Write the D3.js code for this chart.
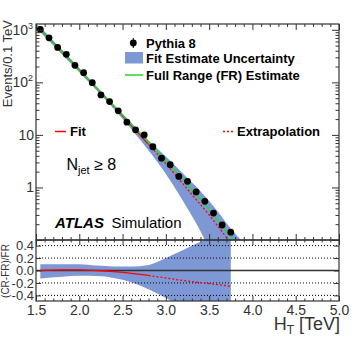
<!DOCTYPE html>
<html>
<head>
<meta charset="utf-8">
<script src="https://cdn.jsdelivr.net/npm/d3@7"></script>
<style>
body { margin: 0; background: #fff; }
svg { display: block; font-family: "Liberation Sans", Arial, Helvetica, sans-serif; }
</style>
</head>
<body>
<div id="chart"></div>
<script>
// Pythia 8 points (0.1 TeV bins)
var htBins = [1.55, 1.65, 1.75, 1.85, 1.95, 2.05, 2.15, 2.25, 2.35, 2.45, 2.55, 2.65,
              2.75, 2.85, 2.95, 3.05, 3.15, 3.25, 3.35, 3.45, 3.55, 3.65, 3.75];
var pythia = [1018, 705, 463, 341, 211, 153, 98.7, 57.7, 43.0, 28.7, 17.5, 12.5,
              10.0, 5.95, 3.60, 2.71, 1.62, 1.31, 0.822, 0.545, 0.325, 0.193, 0.141];

// full range (FR) estimate
var frHt = [1.5, 2.0, 2.5, 3.0, 3.5, 3.77];
var frEvents = [1256, 170, 23.9, 3.23, 0.379, 0.105];

// control region fit, then extrapolation
var fitHt = [1.5, 2.0, 2.5, 2.8];
var fitEvents = [1256, 172, 23.2, 6.6];
var extHt = [2.8, 3.0, 3.25, 3.5, 3.77];
var extEvents = [6.6, 2.84, 0.92, 0.299, 0.078];

// fit estimate uncertainty
var bandHt = [1.55, 1.8, 2.0, 2.2, 2.4, 2.6, 2.8, 3.0, 3.2, 3.4, 3.6, 3.75, 3.88];
var bandHi = [1131, 416, 187, 83.6, 37.6, 17.0, 7.83, 3.88, 1.82, 0.85, 0.35, 0.165, 0.095];
var bandLo = [894, 340, 156, 70.4, 31.1, 13.0, 5.03, 1.81, 0.548, 0.146, 0.028, 0.006, 0.001];

// ratio panel (CR-FR)/FR
var ratioHt = [1.55, 1.8, 2.0, 2.2, 2.4, 2.6, 2.8, 3.0, 3.2, 3.4, 3.6, 3.75];
var ratioHi = [0.10, 0.10, 0.10, 0.08, 0.065, 0.065, 0.09, 0.20, 0.33, 0.46, 0.60, 0.72];
var ratioLo = [-0.13, -0.10, -0.085, -0.09, -0.12, -0.19, -0.30, -0.44, -0.60, -0.75, -0.88, -0.95];
var ratioFitHt = [1.55, 1.8, 2.0, 2.2, 2.5, 2.8];
var ratioFit = [0.0, 0.01, 0.01, 0.0, -0.03, -0.08];
var ratioExtHt = [2.8, 3.0, 3.25, 3.5, 3.75];
var ratioExt = [-0.08, -0.12, -0.17, -0.21, -0.255];

var xTicks = [1.5, 2.0, 2.5, 3.0, 3.5, 4.0, 4.5, 5.0];
var ratioTicks = [-0.4, -0.2, 0.0, 0.2, 0.4];
var yLabels = [{v: 1000, t: "10", s: "3"}, {v: 100, t: "10", s: "2"}, {v: 10, t: "10", s: ""}, {v: 1, t: "1", s: ""}];

var width = 357, height = 343;
var pLeft = 36, pRight = 339, pTop = 24, pMid = 240, pBottom = 301;
var band = "#7d98d5", green = "#22dd22", red = "#ff0000", ink = "#333";

var x = d3.scaleLinear().domain([1.5, 5.0]).range([pLeft, pRight]);
var y = d3.scaleLog().domain([0.1, 1290]).range([pMid, pTop]);
var yr = d3.scaleLinear().domain([-0.49, 0.49]).range([pBottom, pMid]);

var xMinor = d3.range(15, 51).filter(function(d) { return d % 5 !== 0; }).map(function(d) { return d / 10; });
var yMinor = [];
[0.1, 1, 10, 100, 1000].forEach(function(e) {
    for (var k = 2; k <= 9; k++) if (k * e < 1290) yMinor.push(k * e);
});

var svg = d3.select("#chart").append("svg")
    .attr("width", width).attr("height", height);

svg.append("clipPath").attr("id", "clipMain")
    .append("rect").attr("x", pLeft).attr("y", pTop).attr("width", pRight - pLeft).attr("height", pMid - pTop);
svg.append("clipPath").attr("id", "clipRatio")
    .append("rect").attr("x", pLeft).attr("y", pMid).attr("width", pRight - pLeft).attr("height", pBottom - pMid);

function zip(a, b) { return a.map(function(d, i) { return [d, b[i]]; }); }

function tickAxis(maker, scale, values, size, transform) {
    svg.append("g").attr("transform", transform)
        .call(maker(scale).tickValues(values).tickSize(size).tickFormat(""))
        .call(function(g) { g.select(".domain").remove(); })
        .selectAll("line").attr("stroke", ink);
}

// ---- main panel
var main = svg.append("g").attr("clip-path", "url(#clipMain)");

main.append("path")
    .datum(bandHt.map(function(d, i) { return {x: d, lo: bandLo[i], hi: bandHi[i]}; }))
    .attr("fill", band)
    .attr("d", d3.area()
        .x(function(d) { return x(d.x); })
        .y0(function(d) { return y(d.lo); })
        .y1(function(d) { return y(d.hi); })
        .curve(d3.curveMonotoneX));

var line = d3.line()
    .x(function(d) { return x(d[0]); })
    .y(function(d) { return y(d[1]); })
    .curve(d3.curveMonotoneX);

main.append("path").datum(zip(fitHt, fitEvents))
    .attr("fill", "none").attr("stroke", red).attr("stroke-width", 1.3).attr("d", line);
main.append("path").datum(zip(extHt, extEvents))
    .attr("fill", "none").attr("stroke", red).attr("stroke-width", 1.3)
    .attr("stroke-dasharray", "2,2").attr("d", line);
main.append("path").datum(zip(frHt, frEvents))
    .attr("fill", "none").attr("stroke", green).attr("stroke-width", 1.4).attr("d", line);

main.selectAll("circle.pt").data(zip(htBins, pythia)).enter()
    .append("circle").attr("class", "pt")
    .attr("cx", function(d) { return x(d[0]); })
    .attr("cy", function(d) { return y(d[1]); })
    .attr("r", 3.4).attr("fill", "#000");

// ---- ratio panel
var ratio = svg.append("g").attr("clip-path", "url(#clipRatio)");

ratio.append("path")
    .datum(ratioHt.map(function(d, i) { return {x: d, lo: ratioLo[i], hi: ratioHi[i]}; }))
    .attr("fill", band)
    .attr("d", d3.area()
        .x(function(d) { return x(d.x); })
        .y0(function(d) { return yr(d.lo); })
        .y1(function(d) { return yr(d.hi); })
        .curve(d3.curveMonotoneX));

ratio.selectAll("line.grid").data([-0.4, -0.2, 0.2, 0.4]).enter()
    .append("line").attr("class", "grid")
    .attr("x1", pLeft).attr("x2", pRight)
    .attr("y1", function(d) { return yr(d); }).attr("y2", function(d) { return yr(d); })
    .attr("stroke", "#000").attr("stroke-width", 1).attr("stroke-dasharray", "1,2");
ratio.append("line")
    .attr("x1", pLeft).attr("x2", pRight).attr("y1", yr(0)).attr("y2", yr(0))
    .attr("stroke", ink).attr("stroke-width", 1.6);

var rline = d3.line()
    .x(function(d) { return x(d[0]); })
    .y(function(d) { return yr(d[1]); })
    .curve(d3.curveMonotoneX);
ratio.append("path").datum(zip(ratioFitHt, ratioFit))
    .attr("fill", "none").attr("stroke", red).attr("stroke-width", 1.3).attr("d", rline);
ratio.append("path").datum(zip(ratioExtHt, ratioExt))
    .attr("fill", "none").attr("stroke", red).attr("stroke-width", 1.3)
    .attr("stroke-dasharray", "2,2").attr("d", rline);

// ---- frames and ticks
svg.append("rect").attr("x", pLeft).attr("y", pTop).attr("width", pRight - pLeft).attr("height", pMid - pTop)
    .attr("fill", "none").attr("stroke", ink).attr("stroke-width", 1.2);
svg.append("rect").attr("x", pLeft).attr("y", pMid).attr("width", pRight - pLeft).attr("height", pBottom - pMid)
    .attr("fill", "none").attr("stroke", ink).attr("stroke-width", 1.2);

tickAxis(d3.axisBottom, x, xTicks, 6, "translate(0," + pTop + ")");
tickAxis(d3.axisBottom, x, xMinor, 3, "translate(0," + pTop + ")");
tickAxis(d3.axisTop, x, xTicks, 6, "translate(0," + pMid + ")");
tickAxis(d3.axisTop, x, xMinor, 3, "translate(0," + pMid + ")");
tickAxis(d3.axisBottom, x, xTicks, 5, "translate(0," + pMid + ")");
tickAxis(d3.axisBottom, x, xMinor, 2.5, "translate(0," + pMid + ")");
tickAxis(d3.axisTop, x, xTicks, 5, "translate(0," + pBottom + ")");
tickAxis(d3.axisTop, x, xMinor, 2.5, "translate(0," + pBottom + ")");
tickAxis(d3.axisRight, y, [0.1, 1, 10, 100, 1000], 7, "translate(" + pLeft + ",0)");
tickAxis(d3.axisRight, y, yMinor, 3.5, "translate(" + pLeft + ",0)");
tickAxis(d3.axisLeft, y, [0.1, 1, 10, 100, 1000], 7, "translate(" + pRight + ",0)");
tickAxis(d3.axisLeft, y, yMinor, 3.5, "translate(" + pRight + ",0)");
tickAxis(d3.axisRight, yr, ratioTicks, 5, "translate(" + pLeft + ",0)");
tickAxis(d3.axisLeft, yr, ratioTicks, 5, "translate(" + pRight + ",0)");

// ---- tick labels
svg.append("g").attr("transform", "translate(0," + pBottom + ")")
    .call(d3.axisBottom(x).tickValues(xTicks).tickSize(0).tickPadding(4)
        .tickFormat(function(d) { return d.toFixed(1); }))
    .call(function(g) { g.select(".domain").remove(); })
    .attr("font-size", 14).attr("font-family", null)
    .selectAll("text").attr("fill", ink);

svg.append("g").attr("transform", "translate(" + (pLeft - 2) + ",0)")
    .call(d3.axisLeft(yr).tickValues(ratioTicks).tickSize(0).tickPadding(0)
        .tickFormat(function(d) { return d.toFixed(1); }))
    .call(function(g) { g.select(".domain").remove(); })
    .attr("font-size", 13).attr("font-family", null)
    .selectAll("text").attr("fill", ink);

yLabels.forEach(function(d) {
    svg.append("text")
        .attr("x", d.s ? pLeft - 8 : pLeft - 2).attr("y", y(d.v) + 5)
        .attr("text-anchor", "end").attr("font-size", 14).attr("fill", ink)
        .text(d.t);
    if (d.s) {
        svg.append("text").attr("x", pLeft - 8).attr("y", y(d.v) - 1)
            .attr("font-size", 9).attr("fill", ink).text(d.s);
    }
});

// ---- axis titles
svg.append("text")
    .attr("transform", "translate(12,20) rotate(-90)")
    .attr("text-anchor", "end").attr("font-size", 13).attr("fill", ink)
    .text("Events/0.1 TeV");
svg.append("text")
    .attr("transform", "translate(9,271) rotate(-90)")
    .attr("text-anchor", "middle").attr("font-size", 10).attr("fill", ink)
    .text("(CR-FR)/FR");
var xt = svg.append("text").attr("x", pRight + 1).attr("y", 330)
    .attr("text-anchor", "end").attr("font-size", 18).attr("fill", ink);
xt.append("tspan").text("H");
xt.append("tspan").attr("font-size", 12).attr("dy", 4).text("T");
xt.append("tspan").attr("dy", -4).text(" [TeV]");

// ---- legend
var lg = svg.append("g").attr("font-size", 13).attr("font-weight", "bold");
lg.append("line").attr("x1", 133.3).attr("x2", 133.3).attr("y1", 38).attr("y2", 48)
    .attr("stroke", "#000");
lg.append("circle").attr("cx", 133.3).attr("cy", 43).attr("r", 3.4).attr("fill", "#000");
lg.append("text").attr("x", 146).attr("y", 47.5).text("Pythia 8");
lg.append("rect").attr("x", 125).attr("y", 52).attr("width", 18).attr("height", 11.5).attr("fill", band);
lg.append("text").attr("x", 146).attr("y", 63).text("Fit Estimate Uncertainty");
lg.append("line").attr("x1", 125).attr("x2", 143).attr("y1", 75).attr("y2", 75)
    .attr("stroke", green).attr("stroke-width", 1.5);
lg.append("text").attr("x", 146).attr("y", 79.5).text("Full Range (FR) Estimate");

lg.append("line").attr("x1", 55).attr("x2", 66).attr("y1", 131.5).attr("y2", 131.5)
    .attr("stroke", red).attr("stroke-width", 1.5);
lg.append("text").attr("x", 70).attr("y", 136).text("Fit");
lg.append("line").attr("x1", 223).attr("x2", 234).attr("y1", 131.5).attr("y2", 131.5)
    .attr("stroke", red).attr("stroke-width", 1.5).attr("stroke-dasharray", "2,2");
lg.append("text").attr("x", 237).attr("y", 136).text("Extrapolation");

// ---- labels
var nj = svg.append("text").attr("x", 66.5).attr("y", 170).attr("font-size", 16).attr("fill", "#000");
nj.append("tspan").text("N");
nj.append("tspan").attr("font-size", 11).attr("dy", 4).text("jet");
nj.append("tspan").attr("dy", -4).text(" \u2265 8");

svg.append("text").attr("x", 55).attr("y", 228)
    .attr("font-size", 15).attr("font-weight", "bold").attr("font-style", "italic")
    .text("ATLAS");
svg.append("text").attr("x", 111.5).attr("y", 228).attr("font-size", 15).text("Simulation");
</script>
</body>
</html>
